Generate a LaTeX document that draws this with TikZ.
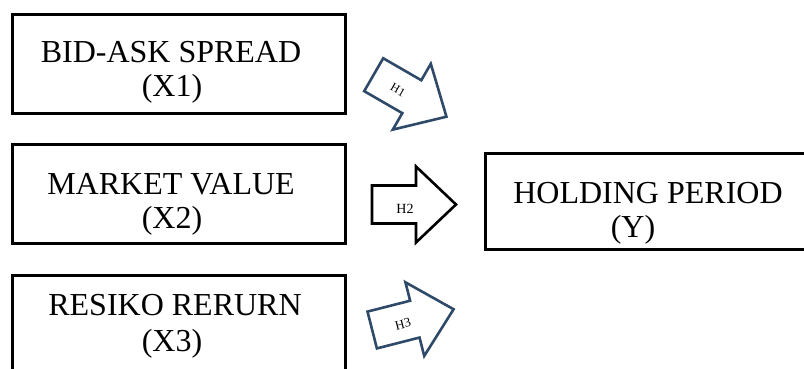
\documentclass[tikz,border=0pt]{standalone}
\usepackage{fontspec}
\setmainfont{Liberation Serif}
\definecolor{arrowblue}{RGB}{46,74,104}
\begin{document}
\begin{tikzpicture}[x=1pt,y=-1pt,
  box/.style={draw=black, line width=2.8pt, rectangle, inner sep=0pt, anchor=north west},
  lbl/.style={font=\fontsize{32}{32}\selectfont, anchor=base, inner sep=0pt},
  hl/.style={inner sep=0pt},
  hyparrow/.pic={\draw[line width=2.6pt, line join=miter, fill=white, pic actions]
      (0,-19) -- (44,-19) -- (44,-38) -- (84,0) -- (44,38) -- (44,19) -- (0,19) -- cycle;}]
\useasboundingbox (0,0) rectangle (804,369);
\clip (0,0) rectangle (804,369);
% boxes
\node[box, minimum width=333pt, minimum height=99pt] (b1) at (11,13) {};
\node[box, minimum width=333pt, minimum height=99pt] (b2) at (11,143) {};
\node[box, minimum width=333pt, minimum height=120pt] (b3) at (11,274) {};
\node[box, minimum width=330pt, minimum height=96pt] (by) at (484,152) {};
% labels
\node[lbl] (t1a) at (171,63) {BID-ASK SPREAD};
\node[lbl] (t1b) at (172,97) {(X1)};
\node[lbl] (t2a) at (171,194) {MARKET VALUE};
\node[lbl] (t2b) at (172,228) {(X2)};
\node[lbl] (t3a) at (175,315) {RESIKO RERURN};
\node[lbl] (t3b) at (172,351) {(X3)};
\node[lbl] (tya) at (648,203) {HOLDING PERIOD};
\node[lbl] (tyb) at (633,237) {(Y)};
% hypothesis arrows
\pic[draw=arrowblue, rotate=-30] at (373.7,74.7) {hyparrow};
\pic[draw=black] at (372,204.5) {hyparrow};
\pic[draw=arrowblue, rotate=14.3] at (372.2,330) {hyparrow};
\node[hl, rotate=-30, font=\fontsize{12}{12}\selectfont] (h1) at (398,90) {H1};
\node[hl, font=\fontsize{14}{14}\selectfont] (h2) at (405,209) {H2};
\node[hl, rotate=14.3, font=\fontsize{13}{13}\selectfont] (h3) at (403,324) {H3};
\end{tikzpicture}
\end{document}
